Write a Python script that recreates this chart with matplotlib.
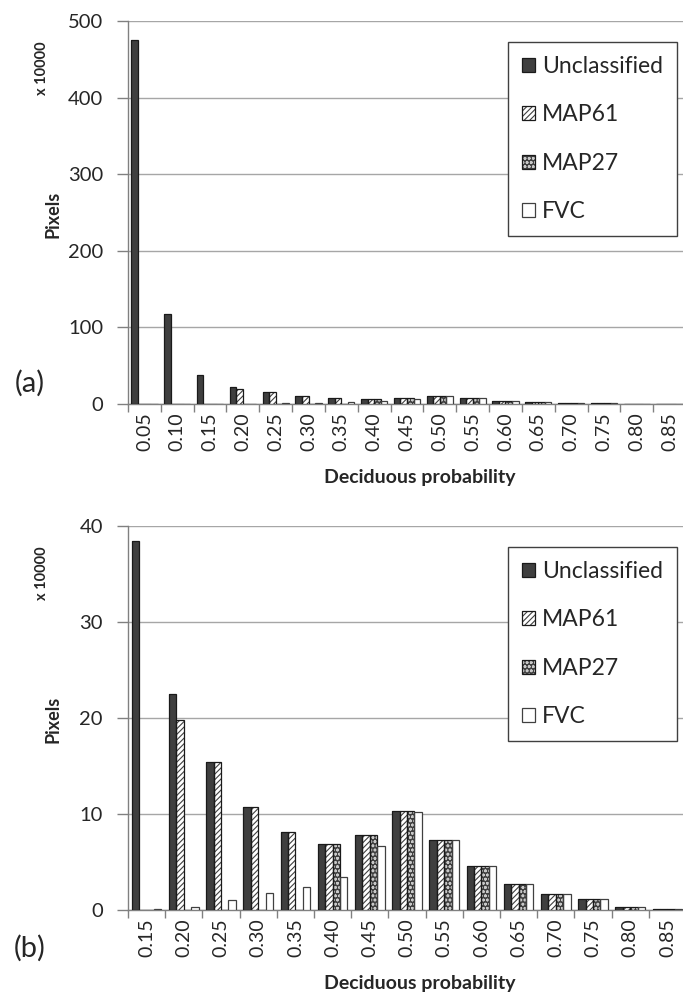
import matplotlib
matplotlib.use("Agg")
import matplotlib.pyplot as plt
from matplotlib.patches import Patch
from matplotlib.ticker import FixedLocator, MultipleLocator
import numpy as np

plt.rcParams['font.family'] = ['Lato', 'DejaVu Sans']
plt.rcParams['hatch.linewidth'] = 0.8

categories = ['0.05', '0.10', '0.15', '0.20', '0.25', '0.30', '0.35', '0.40', '0.45',
              '0.50', '0.55', '0.60', '0.65', '0.70', '0.75', '0.80', '0.85']
unclassified = [475, 117, 38.4, 22.5, 15.4, 10.7, 8.1, 6.9, 7.8, 10.35, 7.3, 4.55, 2.75, 1.65, 1.1, 0.35, 0.07]
map61 = [0, 0, 0, 19.8, 15.4, 10.7, 8.1, 6.9, 7.8, 10.35, 7.3, 4.55, 2.75, 1.65, 1.1, 0.35, 0.07]
map27 = [0, 0, 0, 0, 0, 0, 0, 6.9, 7.8, 10.35, 7.3, 4.55, 2.75, 1.65, 1.1, 0.35, 0.07]
fvc = [0.3, 0.2, 0.07, 0.35, 1.05, 1.8, 2.4, 3.45, 6.7, 10.2, 7.3, 4.55, 2.75, 1.65, 1.1, 0.35, 0.07]
series_names = ['Unclassified', 'MAP61', 'MAP27', 'FVC']

W, H = 683, 994
fig = plt.figure(figsize=(W / 100, H / 100), dpi=100)

GRID = '#a6a6a6'
TXT = '#262626'

styles = [
    dict(face='#3f3f3f', hatch=None, hcol=None, edge='#1a1a1a'),
    dict(face='white', hatch='//////', hcol='#404040', edge='#1a1a1a'),
    dict(face='#404040', hatch='oooo', hcol='#c8c8c8', edge='#1a1a1a'),
    dict(face='white', hatch=None, hcol=None, edge='#404040'),
]


def draw_panel(ax, cats, data, ymax, ystep, label_pos):
    x = np.arange(len(cats))
    bw = 0.2
    offs = [-0.3, -0.1, 0.1, 0.3]
    for vals, st, off in zip(data, styles, offs):
        if st['hatch']:
            ax.bar(x + off, vals, bw, color=st['face'], edgecolor=st['hcol'],
                   hatch=st['hatch'], linewidth=0, zorder=3)
        else:
            ax.bar(x + off, vals, bw, color=st['face'], linewidth=0, zorder=3)
        ax.bar(x + off, vals, bw, facecolor='none', edgecolor=st['edge'],
               linewidth=0.9, zorder=4)
    ax.set_xlim(-0.5, len(cats) - 0.5)
    ax.set_ylim(0, ymax)
    ax.yaxis.set_major_locator(MultipleLocator(ystep))
    ax.set_xticks(x)
    ax.set_xticklabels(cats, rotation=90, fontsize=14, color=TXT)
    ax.xaxis.set_minor_locator(FixedLocator(np.arange(-0.5, len(cats), 1.0)))
    ax.tick_params(axis='x', which='major', length=0, pad=6)
    ax.tick_params(axis='x', which='minor', length=6, color='#808080', width=1, direction='out')
    ax.tick_params(axis='y', which='major', length=8, color='#808080', width=1,
                   direction='out', labelsize=14.5, labelcolor=TXT, pad=10)
    ax.grid(axis='y', color=GRID, linewidth=1, zorder=0)
    ax.set_axisbelow(True)
    for s in ['top', 'right']:
        ax.spines[s].set_visible(False)
    for s in ['left', 'bottom']:
        ax.spines[s].set_color('#808080')
        ax.spines[s].set_linewidth(1)
    handles = []
    for st in styles:
        if st['hatch']:
            h1 = Patch(facecolor=st['face'], edgecolor=st['hcol'], hatch=st['hatch'], linewidth=0)
        else:
            h1 = Patch(facecolor=st['face'], linewidth=0)
        h2 = Patch(facecolor='none', edgecolor=st['edge'], linewidth=0.9)
        handles.append((h1, h2))
    leg = ax.legend(handles, series_names, loc='upper left', bbox_to_anchor=label_pos,
                    fontsize=16.5, frameon=True, fancybox=False, edgecolor='#404040',
                    framealpha=1, handlelength=0.58, handleheight=0.58, handletextpad=0.3,
                    labelspacing=1.2, borderpad=0.6, borderaxespad=0)
    leg.get_frame().set_linewidth(1)
    for t in leg.get_texts():
        t.set_color(TXT)


L = 128 / W
R = 686 / W
ax1 = fig.add_axes([L, 1 - 404 / H, R - L, (404 - 21) / H])
draw_panel(ax1, categories, [unclassified, map61, map27, fvc], 500, 100, (0.681, 0.945))

ax2 = fig.add_axes([L, 1 - 910 / H, R - L, (910 - 526) / H])
draw_panel(ax2, categories[2:], [unclassified[2:], map61[2:], map27[2:], fvc[2:]], 40, 10, (0.681, 0.945))

# axis titles
for top, zero, xl_y, lab_y in [(21, 404, 478, 383), (526, 910, 983, 948)]:
    fig.text(53 / W, 1 - (top + 193) / H, 'Pixels', rotation=90, fontsize=13,
             fontweight='bold', color=TXT, ha='center', va='center')
    fig.text(42 / W, 1 - (top + 47) / H, 'x 10000', rotation=90, fontsize=10.5,
             fontweight='bold', color=TXT, ha='center', va='center')
    fig.text(420 / W, 1 - xl_y / H, 'Deciduous probability', fontsize=14,
             fontweight='bold', color=TXT, ha='center', va='center')
fig.text(30 / W, 1 - 383 / H, '(a)', fontsize=21, color=TXT, ha='center', va='center')
fig.text(30 / W, 1 - 948 / H, '(b)', fontsize=21, color=TXT, ha='center', va='center')

fig.savefig('out.png', dpi=100)
